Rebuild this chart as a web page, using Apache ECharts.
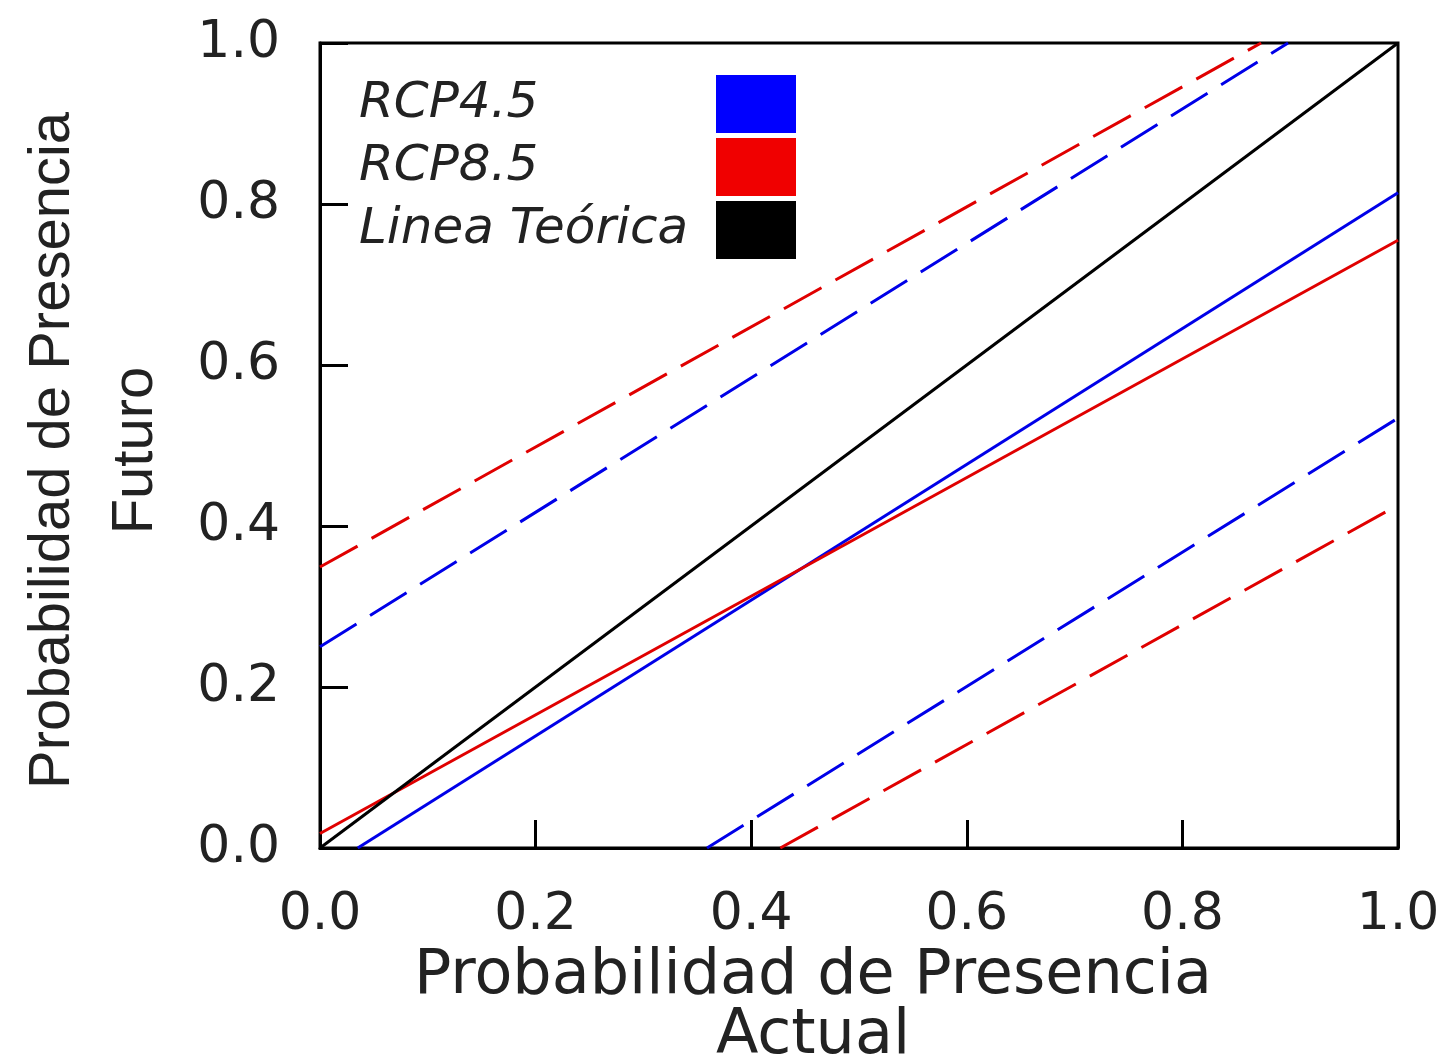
<!DOCTYPE html>
<html>
<head>
<meta charset="utf-8">
<script src="https://cdn.jsdelivr.net/npm/echarts@6/dist/echarts.min.js"></script>
<style>
html,body{margin:0;padding:0;background:#fff;}
#chart{width:1449px;height:1056px;}
</style>
</head>
<body>
<div id="chart"></div>
<script>
// ---- data ----
const xTicks = [0, 0.2, 0.4, 0.6, 0.8, 1.0];
const yTicks = [0, 0.2, 0.4, 0.6, 0.8, 1.0];
const legendNames = ['RCP4.5', 'RCP8.5', 'Linea Teórica'];
const theoretical = [[0, 0], [1, 1]];
const rcp45Fit = [[0.035, 0], [1, 0.814]];
const rcp45Upper = [[0, 0.25], [0.898, 1]];
const rcp45Lower = [[0.359, 0], [1, 0.534]];
const rcp85Fit = [[0, 0.018], [1, 0.755]];
const rcp85Upper = [[0, 0.349], [0.873, 1]];
const rcp85Lower = [[0.427, 0], [1, 0.426]];
const xTitle = 'Probabilidad de Presencia\nActual';
const yTitle = 'Probabilidad de Presencia\nFuturo';

const BLUE = '#0000e8', RED = '#e00000', BLACK = '#000000';
const dash = [43, 16];

function line(name, data, color, dashed, width) {
  return {
    name: name, type: 'line', data: data, showSymbol: false, symbol: 'none',
    clip: true, silent: true,
    lineStyle: { color: color, width: width, type: dashed ? dash : 'solid' },
    itemStyle: { color: color }
  };
}

const chart = echarts.init(document.getElementById('chart'), null, { renderer: 'canvas' });
chart.setOption({
  animation: false,
  backgroundColor: '#ffffff',
  grid: {
    left: 320, right: 51, top: 43, bottom: 208, containLabel: false, outerBoundsMode: 'none',
    show: true, borderColor: '#000', borderWidth: 3, backgroundColor: 'transparent'
  },
  legend: {
    orient: 'vertical', left: 354, top: 70, align: 'right', icon: 'rect',
    itemWidth: 80, itemHeight: 58, itemGap: 5,
    selectedMode: false,
    itemStyle: { borderWidth: 0 },
    formatter: name => '{t|' + name + '}',
    textStyle: {
      width: 352,
      rich: { t: { fontFamily: 'DejaVu Sans', fontStyle: 'italic', fontSize: 50, color: '#222', align: 'left' } }
    },
    data: [
      { name: legendNames[0], itemStyle: { color: '#0000ff' } },
      { name: legendNames[1], itemStyle: { color: '#f00000' } },
      { name: legendNames[2], itemStyle: { color: '#000000' } }
    ]
  },
  xAxis: {
    type: 'value', min: xTicks[0], max: xTicks[xTicks.length - 1], interval: 0.2,
    name: xTitle, nameLocation: 'middle', nameGap: 90,
    nameTextStyle: { fontFamily: 'DejaVu Sans', fontSize: 62, lineHeight: 60, color: '#222', padding: [0, 92, 0, 0] },
    axisLine: { show: true, lineStyle: { color: '#000', width: 3 } },
    axisTick: { show: true, inside: true, length: 28, lineStyle: { color: '#000', width: 3 } },
    axisLabel: { margin: 41, fontFamily: 'DejaVu Sans', fontSize: 52, color: '#222', formatter: v => v.toFixed(1) },
    splitLine: { show: false }
  },
  yAxis: {
    type: 'value', min: yTicks[0], max: yTicks[yTicks.length - 1], interval: 0.2,
    name: yTitle, nameLocation: 'middle', nameGap: 143, nameRotate: 90,
    nameTextStyle: { fontFamily: 'Liberation Sans', fontSize: 58, lineHeight: 83, color: '#222', padding: [0, 10, 0, 0] },
    axisLine: { show: true, lineStyle: { color: '#000', width: 3 } },
    axisTick: { show: true, inside: true, length: 28, lineStyle: { color: '#000', width: 3 } },
    axisLabel: { margin: 40, fontFamily: 'DejaVu Sans', fontSize: 52, color: '#222', formatter: v => v.toFixed(1) },
    splitLine: { show: false }
  },
  series: [
    line(legendNames[0], rcp45Fit, BLUE, false, 3),
    line(legendNames[1], rcp85Fit, RED, false, 3),
    line(legendNames[2], theoretical, BLACK, false, 3),
    line(legendNames[0], rcp45Upper, BLUE, true, 3),
    line(legendNames[0], rcp45Lower, BLUE, true, 3),
    line(legendNames[1], rcp85Upper, RED, true, 3),
    line(legendNames[1], rcp85Lower, RED, true, 3)
  ]
});
</script>
</body>
</html>
